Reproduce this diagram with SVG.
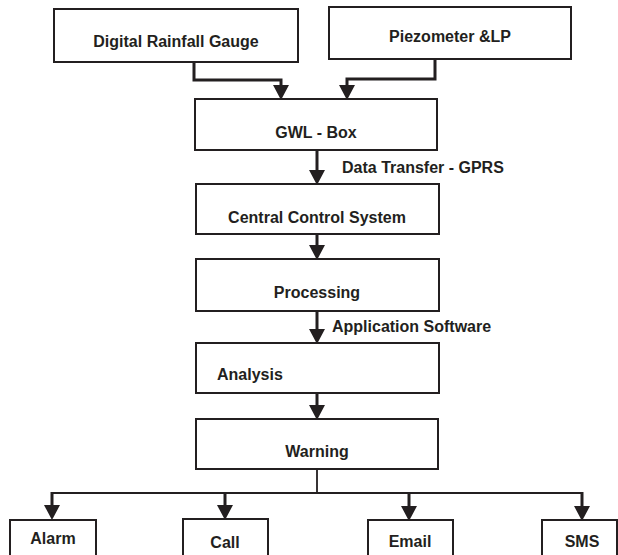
<svg xmlns="http://www.w3.org/2000/svg" width="618" height="555" viewBox="0 0 618 555">
  <style>
    .box { fill: #ffffff; stroke: #231f20; stroke-width: 2; }
    .lbl { font-family: "Liberation Sans", Arial, sans-serif; font-weight: bold; font-size: 16px; fill: #231f20; }
    .mid { text-anchor: middle; }
    .flow { fill: none; stroke: #231f20; stroke-width: 3; }
    .thin { fill: none; stroke: #231f20; stroke-width: 1.8; }
  </style>
  <defs>
    <marker id="head" markerUnits="userSpaceOnUse" markerWidth="15" markerHeight="16" refX="0" refY="8" orient="auto" viewBox="0 0 15 16">
      <path d="M0,0 L15,8 L0,16 Z" fill="#231f20"/>
    </marker>
  </defs>
  <rect width="618" height="555" fill="#ffffff"/>

  <g id="connectors">
    <path class="flow" d="M194,62 V80 H281 V85" marker-end="url(#head)"/>
    <path class="flow" d="M435,59 V79 H347 V85" marker-end="url(#head)"/>
    <path class="flow" d="M317,150 V170" marker-end="url(#head)"/>
    <path class="flow" d="M317,234 V245" marker-end="url(#head)"/>
    <path class="flow" d="M317,311 V329" marker-end="url(#head)"/>
    <path class="flow" d="M317,393 V405" marker-end="url(#head)"/>
    <path class="thin" d="M317,469 V493 M52,493 H582"/>
    <path class="flow" d="M52,492 V505" marker-end="url(#head)"/>
    <path class="flow" d="M225,492 V505" marker-end="url(#head)"/>
    <path class="flow" d="M409,492 V506" marker-end="url(#head)"/>
    <path class="flow" d="M582,492 V506" marker-end="url(#head)"/>
    <text class="lbl" x="342" y="173">Data Transfer - GPRS</text>
    <text class="lbl" x="332" y="332">Application Software</text>
  </g>

  <g id="rainfall-gauge">
    <rect class="box" x="54" y="9" width="244" height="53"/>
    <text class="lbl mid" x="176" y="47">Digital Rainfall Gauge</text>
  </g>
  <g id="piezometer">
    <rect class="box" x="329" y="7" width="242" height="52"/>
    <text class="lbl mid" x="450" y="42">Piezometer &amp;LP</text>
  </g>
  <g id="gwl-box">
    <rect class="box" x="195" y="99" width="242" height="51"/>
    <text class="lbl mid" x="316" y="138">GWL - Box</text>
  </g>
  <g id="central-control">
    <rect class="box" x="196" y="184" width="243" height="50"/>
    <text class="lbl mid" x="317" y="223">Central Control System</text>
  </g>
  <g id="processing">
    <rect class="box" x="196" y="259" width="243" height="52"/>
    <text class="lbl mid" x="317" y="298">Processing</text>
  </g>
  <g id="analysis">
    <rect class="box" x="196" y="343" width="243" height="50"/>
    <text class="lbl" x="217" y="380">Analysis</text>
  </g>
  <g id="warning">
    <rect class="box" x="196" y="419" width="242" height="50"/>
    <text class="lbl mid" x="317" y="457">Warning</text>
  </g>
  <g id="alarm">
    <rect class="box" x="10" y="520" width="86" height="45"/>
    <text class="lbl mid" x="53" y="544">Alarm</text>
  </g>
  <g id="call">
    <rect class="box" x="183" y="519" width="85" height="46"/>
    <text class="lbl mid" x="225" y="548">Call</text>
  </g>
  <g id="email">
    <rect class="box" x="368" y="520" width="85" height="45"/>
    <text class="lbl mid" x="410" y="547">Email</text>
  </g>
  <g id="sms">
    <rect class="box" x="542" y="520" width="75" height="45"/>
    <text class="lbl mid" x="582" y="547">SMS</text>
  </g>
</svg>
